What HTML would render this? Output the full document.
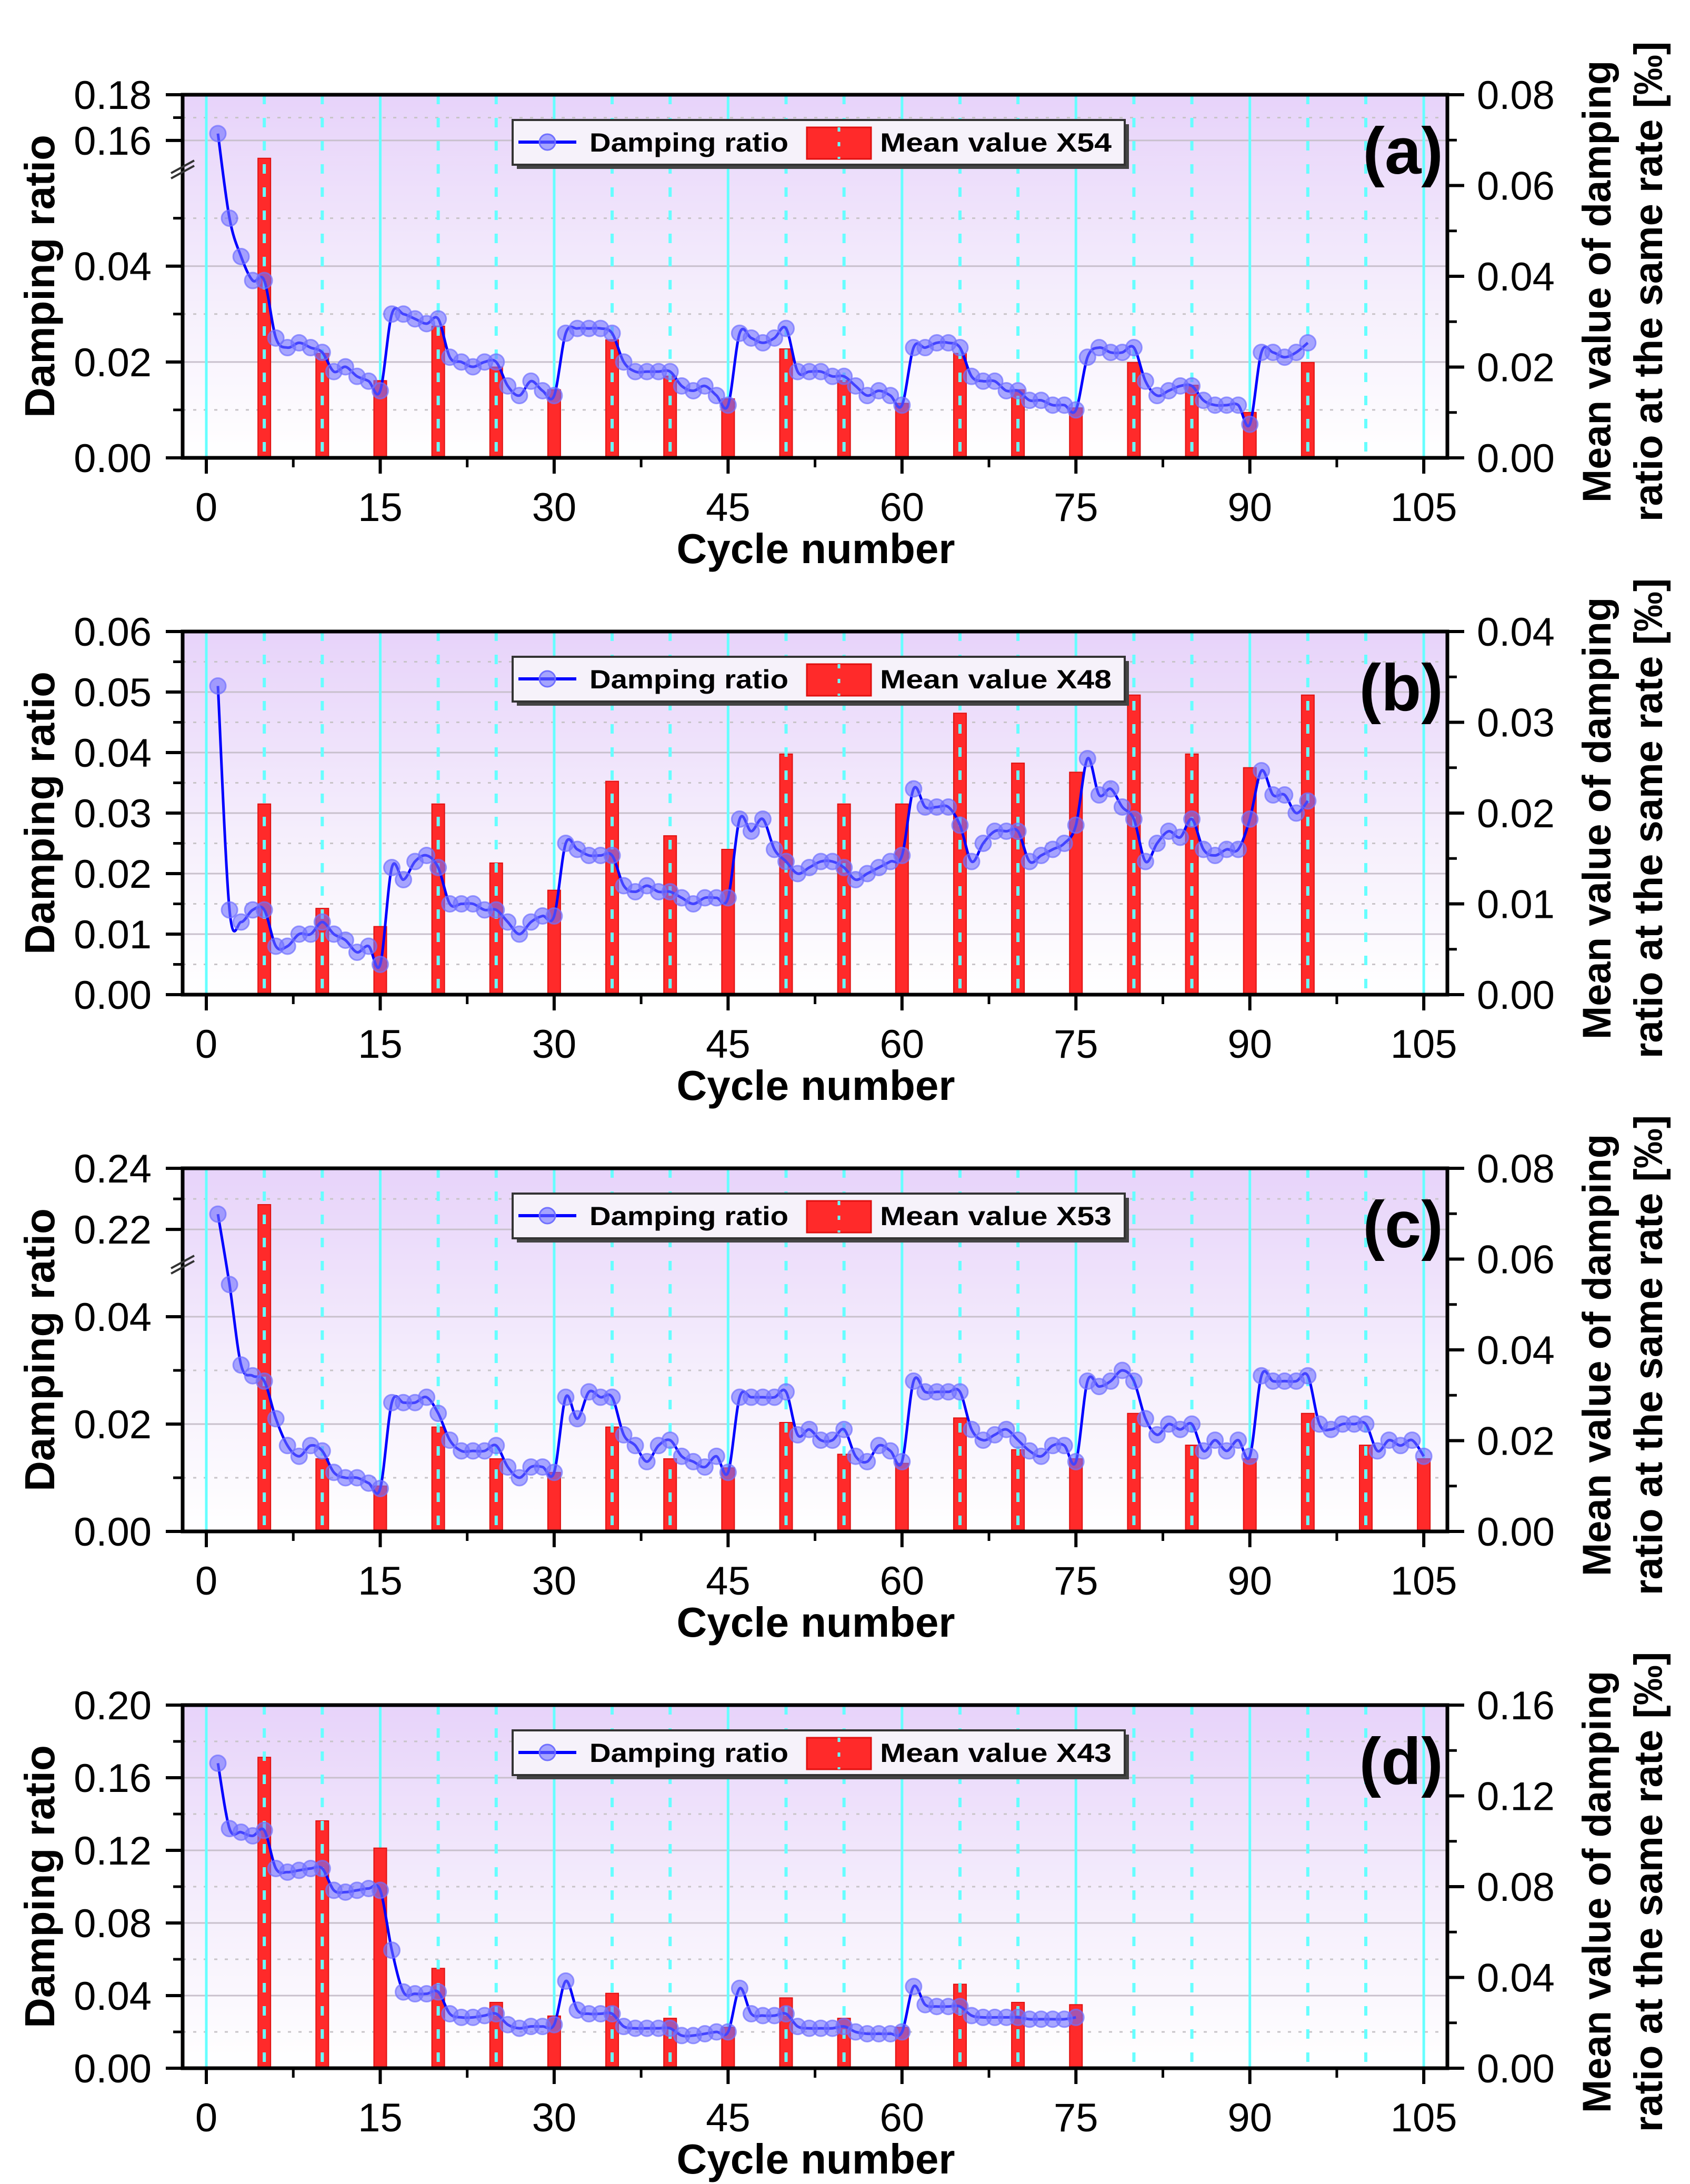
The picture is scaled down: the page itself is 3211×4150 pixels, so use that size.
<!DOCTYPE html>
<html><head><meta charset="utf-8">
<style>
html,body{margin:0;padding:0;background:#fff;}
svg{display:block;font-family:"Liberation Sans",Arial,sans-serif;}
</style></head>
<body>
<svg id="fig" xmlns="http://www.w3.org/2000/svg" width="3211" height="4150" viewBox="0 0 3211 4150">
<defs>
<linearGradient id="bg" x1="0" y1="0" x2="0" y2="1">
<stop offset="0" stop-color="#e7d3fa"/><stop offset="0.55" stop-color="#f5eefc"/><stop offset="1" stop-color="#ffffff"/>
</linearGradient>
</defs>
</svg>
<script>
// ---------- data ----------
const barCyclesA=[5,10,15,20,25,30,35,40,45,50,55,60,65,70,75,80,85,90,95];
const dampA=[0.163,0.05,0.042,0.037,0.037,0.025,0.023,0.024,0.023,0.022,0.018,0.019,0.017,0.016,0.014,0.030,0.030,0.029,0.028,0.029,0.021,0.020,0.019,0.020,0.020,0.015,0.013,0.016,0.014,0.013,0.026,0.027,0.027,0.027,0.026,0.020,0.018,0.018,0.018,0.018,0.015,0.014,0.015,0.013,0.011,0.026,0.025,0.024,0.025,0.027,0.018,0.018,0.018,0.017,0.017,0.015,0.013,0.014,0.013,0.011,0.023,0.023,0.024,0.024,0.023,0.017,0.016,0.016,0.014,0.014,0.012,0.012,0.011,0.011,0.010,0.021,0.023,0.022,0.022,0.023,0.016,0.013,0.014,0.015,0.015,0.012,0.011,0.011,0.011,0.007,0.022,0.022,0.021,0.022,0.024];
const meanA=[0.066,0.023,0.017,0.029,0.020,0.015,0.026,0.018,0.013,0.024,0.017,0.012,0.023,0.015,0.011,0.021,0.016,0.010,0.021];

const barCyclesB=[5,10,15,20,25,30,35,40,45,50,55,60,65,70,75,80,85,90,95];
const dampB=[0.051,0.014,0.012,0.014,0.014,0.008,0.008,0.010,0.010,0.012,0.010,0.009,0.007,0.008,0.005,0.021,0.019,0.022,0.023,0.021,0.015,0.015,0.015,0.014,0.014,0.012,0.010,0.012,0.013,0.013,0.025,0.024,0.023,0.023,0.023,0.018,0.017,0.018,0.017,0.017,0.016,0.015,0.016,0.016,0.016,0.029,0.027,0.029,0.024,0.022,0.020,0.021,0.022,0.022,0.021,0.019,0.020,0.021,0.022,0.023,0.034,0.031,0.031,0.031,0.028,0.022,0.025,0.027,0.027,0.027,0.022,0.023,0.024,0.025,0.028,0.039,0.033,0.034,0.031,0.029,0.022,0.025,0.027,0.026,0.029,0.024,0.023,0.024,0.024,0.029,0.037,0.033,0.033,0.030,0.032];
const meanB=[0.021,0.0095,0.0075,0.021,0.0145,0.0115,0.0235,0.0175,0.016,0.0265,0.021,0.021,0.031,0.0255,0.0245,0.033,0.0265,0.025,0.033];

const barCyclesC=[5,10,15,20,25,30,35,40,45,50,55,60,65,70,75,80,85,90,95,100,105];
const dampC=[0.225,0.046,0.031,0.029,0.028,0.021,0.016,0.014,0.016,0.015,0.011,0.010,0.010,0.009,0.008,0.024,0.024,0.024,0.025,0.022,0.017,0.015,0.015,0.015,0.016,0.012,0.010,0.012,0.012,0.011,0.025,0.021,0.026,0.025,0.025,0.018,0.016,0.013,0.016,0.017,0.014,0.013,0.012,0.014,0.011,0.025,0.025,0.025,0.025,0.026,0.018,0.019,0.017,0.017,0.019,0.014,0.013,0.016,0.015,0.013,0.028,0.026,0.026,0.026,0.026,0.019,0.017,0.018,0.019,0.017,0.015,0.014,0.016,0.016,0.013,0.028,0.027,0.028,0.030,0.028,0.021,0.018,0.020,0.019,0.020,0.015,0.017,0.015,0.017,0.014,0.029,0.028,0.028,0.028,0.029,0.020,0.019,0.020,0.020,0.020,0.015,0.017,0.016,0.017,0.014];
const meanC=[0.072,0.016,0.010,0.023,0.016,0.013,0.023,0.016,0.014,0.024,0.017,0.015,0.025,0.018,0.016,0.026,0.019,0.016,0.026,0.019,0.016];

const barCyclesD=[5,10,15,20,25,30,35,40,45,50,55,60,65,70,75];
const dampD=[0.168,0.132,0.130,0.128,0.131,0.110,0.108,0.109,0.110,0.110,0.098,0.097,0.098,0.099,0.098,0.065,0.042,0.041,0.041,0.042,0.030,0.028,0.028,0.029,0.030,0.024,0.022,0.023,0.023,0.024,0.048,0.032,0.030,0.030,0.030,0.023,0.022,0.022,0.022,0.022,0.018,0.018,0.019,0.020,0.020,0.044,0.030,0.029,0.029,0.030,0.023,0.022,0.022,0.022,0.023,0.020,0.019,0.019,0.019,0.020,0.045,0.035,0.034,0.034,0.034,0.029,0.028,0.028,0.028,0.028,0.027,0.027,0.027,0.027,0.028];
const meanD=[0.137,0.109,0.097,0.044,0.029,0.023,0.033,0.022,0.018,0.031,0.022,0.018,0.037,0.029,0.028];

const xTicks=[0,15,30,45,60,75,90,105];
const leftTicksA=[0,0.02,0.04,0.16,0.18];
const leftTicksB=[0,0.01,0.02,0.03,0.04,0.05,0.06];
const leftTicksC=[0,0.02,0.04,0.22,0.24];
const leftTicksD=[0,0.04,0.08,0.12,0.16,0.20];
const rightTicksA=[0,0.02,0.04,0.06,0.08];
const rightTicksB=[0,0.01,0.02,0.03,0.04];
const rightTicksC=[0,0.02,0.04,0.06,0.08];
const rightTicksD=[0,0.04,0.08,0.12,0.16];

// ---------- drawing ----------
const NS="http://www.w3.org/2000/svg";
const svg=document.getElementById('fig');
function mk(tag,attrs,parent){const e=document.createElementNS(NS,tag);for(const k in attrs)e.setAttribute(k,attrs[k]);(parent||svg).appendChild(e);return e;}
const PL=347,PR=2750,PH=690;
function xs(c){return 392+c*22.03;}

const panels=[
 {top:180,label:'(a)',tag:'X54',damp:dampA,mean:meanA,bc:barCyclesA,lt:leftTicksA,rt:rightTicksA,rmax:0.08,
  brk:{lo:0.0605,hi:0.148,ybrk:139},lmin:[0.01,0.03,0.05,0.17]},
 {top:1200,label:'(b)',tag:'X48',damp:dampB,mean:meanB,bc:barCyclesB,lt:leftTicksB,rt:rightTicksB,rmax:0.04,lmax:0.06,lmin:[0.005,0.015,0.025,0.035,0.045,0.055]},
 {top:2220,label:'(c)',tag:'X53',damp:dampC,mean:meanC,bc:barCyclesC,lt:leftTicksC,rt:rightTicksC,rmax:0.08,
  brk:{lo:0.0500,hi:0.209,ybrk:180},lmin:[0.01,0.03,0.23]},
 {top:3240,label:'(d)',tag:'X43',damp:dampD,mean:meanD,bc:barCyclesD,lt:leftTicksD,rt:rightTicksD,rmax:0.16,lmax:0.20,lmin:[0.02,0.06,0.10,0.14,0.18]}
];
panels.forEach((p,i)=>{
  const T=p.top,B=T+PH;
  let ys;
  if(p.brk){
    const yb=T+p.brk.ybrk, lo=p.brk.lo, hi=p.brk.hi, top=p.lt[p.lt.length-1];
    ys=v=> v<=lo ? B-(v/lo)*(B-yb) : yb-((v-hi)/(top-hi))*(yb-T);
  } else ys=v=>B-(v/p.lmax)*PH;
  const yr=v=>B-(v/p.rmax)*PH;
  const g=mk('g',{});
  
  
  mk('rect',{x:PL,y:T,width:PR-PL,height:PH,fill:'url(#bg)'},g);
  p.lt.forEach(v=>{const y=ys(v); if(y>T+2&&y<B-2) mk('line',{x1:PL,x2:PR,y1:y,y2:y,stroke:'#c8c0cc','stroke-width':3},g);});
  p.lmin.forEach(v=>{const y=ys(v); mk('line',{x1:PL,x2:PR,y1:y,y2:y,stroke:'#c8c4c8','stroke-width':3,'stroke-dasharray':'6 14'},g);});
  for(let c=0;c<=105;c+=15){
    const x=xs(c);
    mk('line',{x1:x,x2:x,y1:T,y2:B,stroke:'#66ffff','stroke-width':5},g);
  }
  p.bc.forEach((c,k)=>{
    const b=mk('rect',{x:xs(c)-12,y:yr(p.mean[k]),width:24,height:B-yr(p.mean[k]),fill:'#ff2a2a',stroke:'#e01010','stroke-width':2},g);
    
    
  });
  for(let c=5;c<=105;c+=5){ if(c%15!==0){const x=xs(c); mk('line',{x1:x,x2:x,y1:T,y2:B,stroke:'#66ffff','stroke-width':6,'stroke-dasharray':'18 26'},g);} }
  const pts=p.damp.map((v,k)=>[xs(k+1),ys(v)]);
  let d='M'+pts[0][0]+','+pts[0][1];
  for(let k=0;k<pts.length-1;k++){
    const p0=pts[Math.max(0,k-1)],p1=pts[k],p2=pts[k+1],p3=pts[Math.min(pts.length-1,k+2)];
    const c1=[p1[0]+(p2[0]-p0[0])/6,p1[1]+(p2[1]-p0[1])/6],c2=[p2[0]-(p3[0]-p1[0])/6,p2[1]-(p3[1]-p1[1])/6];
    d+=` C${c1[0]},${c1[1]} ${c2[0]},${c2[1]} ${p2[0]},${p2[1]}`;
  }
  const ln=mk('path',{d:d,fill:'none',stroke:'#0000ff','stroke-width':5},g);
  
  
  pts.forEach((q,k)=>{
    const m=mk('circle',{cx:q[0],cy:q[1],r:15,fill:'#6f6fff','fill-opacity':0.6,stroke:'#7070ff','stroke-width':3,'stroke-opacity':0.7},g);
    
    
  });
  mk('rect',{x:PL,y:T,width:PR-PL,height:PH,fill:'none',stroke:'#000','stroke-width':7},g);
  p.lt.forEach(v=>{const y=ys(v);
    mk('line',{x1:PL-32,x2:PL,y1:y,y2:y,stroke:'#000','stroke-width':6},g);
    const t=mk('text',{x:288,y:y+27,'text-anchor':'end','font-size':76,fill:'#000'},g);
    t.textContent=v.toFixed(2);
    
    
  });
  p.lmin.forEach(v=>{const y=ys(v); mk('line',{x1:PL-18,x2:PL,y1:y,y2:y,stroke:'#000','stroke-width':5},g);});
  if(p.brk){const yb=T+p.brk.ybrk;
    mk('line',{x1:PL-22,y1:yb+10,x2:PL+22,y2:yb-14,stroke:'#333','stroke-width':4},g);
    mk('line',{x1:PL-22,y1:yb+20,x2:PL+22,y2:yb-4,stroke:'#333','stroke-width':4},g);}
  p.rt.forEach(v=>{const y=yr(v);
    mk('line',{x1:PR,x2:PR+32,y1:y,y2:y,stroke:'#000','stroke-width':6},g);
    const t=mk('text',{x:2806,y:y+27,'font-size':76,fill:'#000'},g);
    t.textContent=v.toFixed(2);
    
    
  });
  for(let k=0;k<p.rt.length-1;k++){const y=yr((p.rt[k]+p.rt[k+1])/2); mk('line',{x1:PR,x2:PR+18,y1:y,y2:y,stroke:'#000','stroke-width':5},g);}
  xTicks.forEach(c=>{const x=xs(c);
    mk('line',{x1:x,x2:x,y1:B,y2:B+30,stroke:'#000','stroke-width':6},g);
    const t=mk('text',{x:x,y:B+120,'text-anchor':'middle','font-size':76,fill:'#000'},g);
    t.textContent=c;
    
    
  });
  for(let c=7.5;c<105;c+=15){const x=xs(c); mk('line',{x1:x,x2:x,y1:B,y2:B+18,stroke:'#000','stroke-width':5},g);}
  const xt=mk('text',{x:1550,y:B+200,'text-anchor':'middle','font-size':80,'font-weight':'bold',fill:'#000'},g);
  xt.textContent='Cycle number';
  
  
  const cy=T+PH/2;
  const lt=mk('text',{x:0,y:0,transform:`translate(103,${cy}) rotate(-90)`,'text-anchor':'middle','font-size':80,'font-weight':'bold',fill:'#000'},g);
  lt.textContent='Damping ratio';
  
  
  const rt1=mk('text',{x:0,y:0,transform:`translate(3060,${cy+10}) rotate(-90)`,'text-anchor':'middle','font-size':76,'font-weight':'bold',fill:'#000'},g);
  rt1.textContent='Mean value of damping';
  
  
  const rt2=mk('text',{x:0,y:0,transform:`translate(3158,${cy+10}) rotate(-90)`,'text-anchor':'middle','font-size':76,'font-weight':'bold',fill:'#000'},g);
  rt2.textContent='ratio at the same rate [‰]';
  
  
  const pl=mk('text',{x:2742,y:T+150,'text-anchor':'end','font-size':125,'font-weight':'bold',fill:'#000'},g);
  pl.textContent=p.label;
  
  
  const lg=mk('g',{},g);
  
  
  mk('rect',{x:982,y:T+56,width:1163,height:85,fill:'#444'},lg);
  mk('rect',{x:974,y:T+48,width:1163,height:85,fill:'#f6f2fa',stroke:'#333','stroke-width':4},lg);
  mk('line',{x1:985,x2:1095,y1:T+90,y2:T+90,stroke:'#0000ff','stroke-width':6},lg);
  mk('circle',{cx:1040,cy:T+90,r:15,fill:'#6f6fff','fill-opacity':0.6,stroke:'#7070ff','stroke-width':3},lg);
  const l1=mk('text',{x:1120,y:T+108,'font-size':50,'font-weight':'bold',fill:'#000',textLength:378,lengthAdjust:'spacingAndGlyphs'},lg);
  l1.textContent='Damping ratio';
  
  
  mk('rect',{x:1533,y:T+62,width:122,height:60,fill:'#ff2a2a',stroke:'#e01010','stroke-width':3},lg);
  mk('line',{x1:1594,x2:1594,y1:T+62,y2:T+122,stroke:'#66ffff','stroke-width':5,'stroke-dasharray':'8 20'},lg);
  const l2=mk('text',{x:1672,y:T+108,'font-size':50,'font-weight':'bold',fill:'#000',textLength:440,lengthAdjust:'spacingAndGlyphs','xml:space':'preserve'},lg);
  l2.textContent='Mean value  '+p.tag;
  
  
});
</script>
</body></html>
